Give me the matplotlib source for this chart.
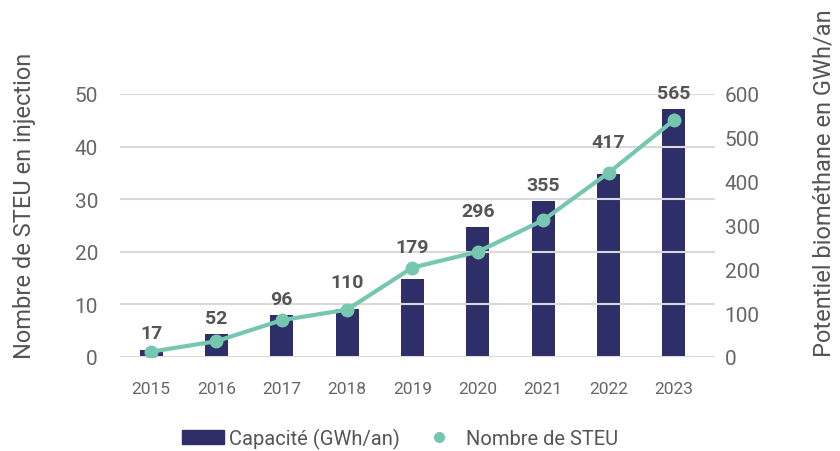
import matplotlib
matplotlib.use("Agg")
import matplotlib.pyplot as plt
from matplotlib.lines import Line2D
from matplotlib.patches import Patch
import numpy as np

annees = ["2015", "2016", "2017", "2018", "2019", "2020", "2021", "2022", "2023"]
capacite = [17, 52, 96, 110, 179, 296, 355, 417, 565]   # GWh/an
nb_steu = [1, 3, 7, 9, 17, 20, 26, 35, 45]

bleu = "#2e2e68"
vert = "#76c7b0"
gris = "#666666"
texte = "#555555"

plt.rcParams["font.family"] = ["Roboto", "DejaVu Sans"]

fig = plt.figure(figsize=(8.4, 4.52), dpi=100)
ax = fig.add_axes([0.143, 0.208, 0.708, 0.582])
ax2 = ax.twinx()

x = list(range(len(annees)))

# barres sur l'axe de droite
ax2.bar(x, capacite, width=0.35, color=bleu, zorder=2)
ax2.set_ylim(0, 600)
ax2.set_yticks([0, 100, 200, 300, 400, 500, 600])

# courbe sur l'axe de gauche, au-dessus des barres
ax.set_zorder(ax2.get_zorder() + 1)
ax.patch.set_visible(False)
ax.plot(x, nb_steu, color=vert, lw=3, marker="o", ms=9, zorder=3)
ax.set_ylim(0, 50)
ax.set_yticks([0, 10, 20, 30, 40, 50])
ax.set_xlim(-0.474, 8.627)
ax.set_xticks(x)
ax.set_xticklabels(annees)

for a in (ax, ax2):
    for s in a.spines.values():
        s.set_visible(False)
    a.tick_params(length=0, colors=gris)

ax.grid(axis="y", color="#d9d9d9", lw=1.5, zorder=0)
ax.set_axisbelow(True)

for lab in ax.get_yticklabels() + ax2.get_yticklabels():
    lab.set_fontsize(15)
for lab in ax.get_xticklabels():
    lab.set_fontsize(12.5)
ax.tick_params(axis="y", pad=16)
ax2.tick_params(axis="y", pad=7)
ax.tick_params(axis="x", pad=17)

ax.set_ylabel("Nombre de STEU en injection", fontsize=17, color=texte)
ax2.set_ylabel("Potentiel biométhane en GWh/an", fontsize=17, color=texte)
ax.yaxis.set_label_coords(-0.142, 0.578)
ax2.yaxis.set_label_coords(1.165, 0.665)

# étiquettes au-dessus de la barre et de la courbe (en unités de droite)
ratio = 600 / 50
for i, v in enumerate(capacite):
    ligne = np.interp([i - 0.28, i, i + 0.28], x, nb_steu) * ratio
    top = max(v, ligne.max())
    ax.annotate(str(v), (i, top), xycoords=ax2.transData, xytext=(0, 8),
                textcoords="offset points", ha="center", va="baseline",
                fontsize=14, fontweight="bold", color=texte, zorder=5)

handles = [Patch(color=bleu),
           Line2D([], [], color=vert, marker="o", ls="none", ms=7)]
fig.legend(handles, ["Capacité (GWh/an)", "Nombre de STEU"], loc="lower center",
           bbox_to_anchor=(0.476, -0.035), ncol=2, frameon=False, fontsize=14.5,
           handlelength=2.1, handleheight=0.7, columnspacing=0.9, handletextpad=0.25,
           labelcolor=texte)

fig.savefig("out.png", dpi=100)
